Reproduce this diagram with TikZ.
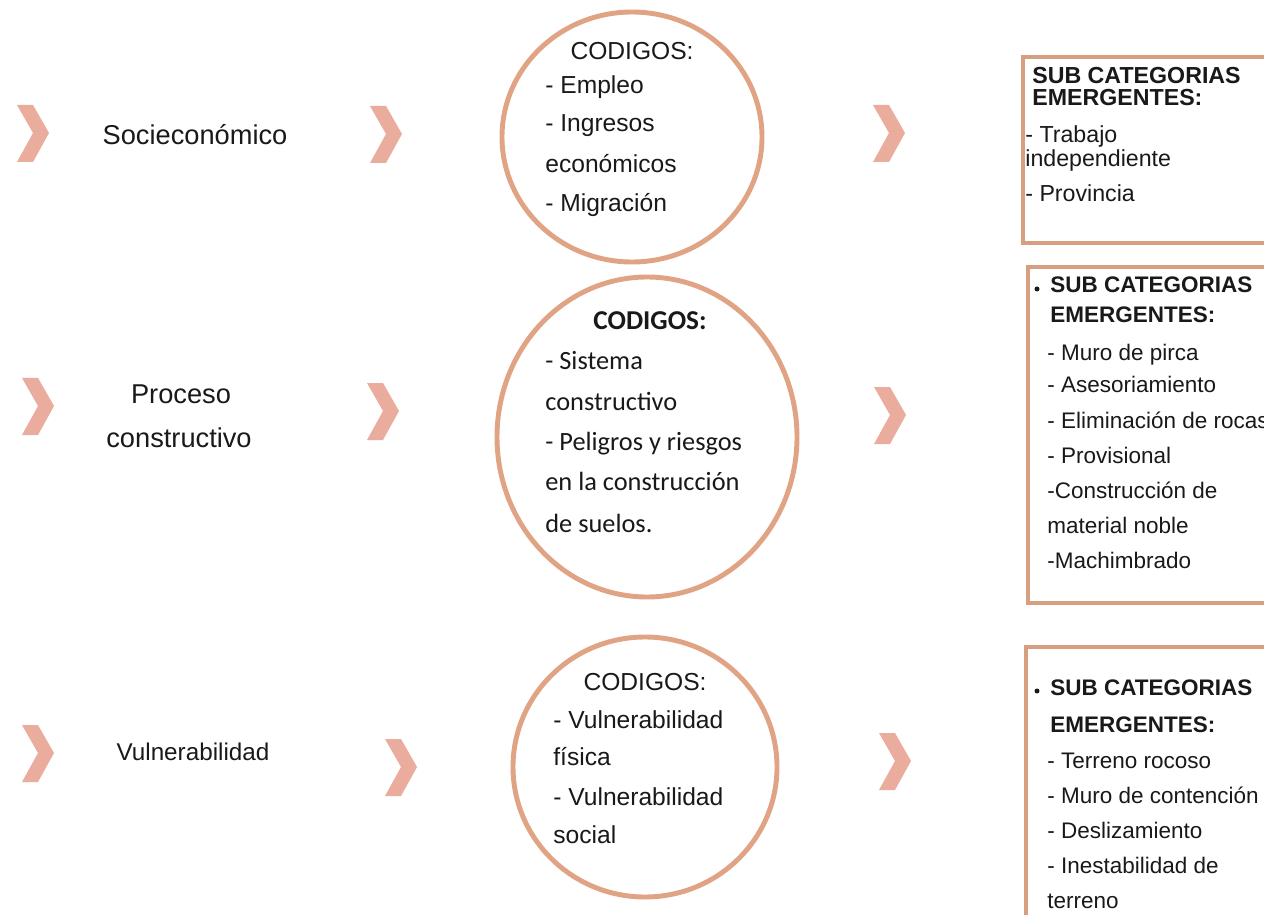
\documentclass[tikz,border=0pt]{standalone}
\usepackage{fontspec}
\setmainfont{Liberation Sans}
\newfontfamily\calibrifont{Carlito}
\definecolor{chevcol}{RGB}{234,172,156}
\definecolor{ringcol}{RGB}{224,163,132}
\definecolor{boxcol}{RGB}{214,160,128}
\definecolor{txtcol}{RGB}{25,25,25}
\tikzset{
  chev/.pic={\fill[chevcol] (0,-28) -- (16,-28) -- (32,0) -- (16,29) -- (0,29) -- (16,0) -- cycle;},
  ring/.style={draw=ringcol, line width=2.8pt},
  subbox/.style={draw=boxcol, line width=1.8pt},
  lbl/.style={inner sep=0pt, text=txtcol, font=\fontsize{15.5}{18}\selectfont},
  codtext/.style={inner sep=0pt, text=txtcol, font=\fontsize{14}{16}\selectfont},
  codtextb/.style={inner sep=0pt, text=txtcol, font=\calibrifont\fontsize{15}{17}\selectfont},
  subhead/.style={inner sep=0pt, text=txtcol, font=\bfseries\fontsize{12.8}{14}\selectfont},
  subtext/.style={inner sep=0pt, text=txtcol, font=\fontsize{12.8}{14}\selectfont},
}
\begin{document}
\begin{tikzpicture}[x=0.02cm, y=-0.02cm]
    \fill[white] (0,0) rectangle (1264,915);
    \useasboundingbox (0,0) rectangle (1264,915);

    % chevrons
    \pic at (17,133) {chev};
    \pic at (370,134) {chev};
    \pic at (873,133) {chev};
    \pic at (22,406) {chev};
    \pic at (367,411) {chev};
    \pic at (874,415) {chev};
    \pic at (22,753) {chev};
    \pic at (385,767) {chev};
    \pic at (879,761) {chev};

    % categories
    \node[lbl, anchor=base] (cat1) at (195,145) {Socieconómico};
    \node[lbl, anchor=base] (cat2a) at (181,403) {Proceso};
    \node[lbl, anchor=base] (cat2b) at (179,447) {constructivo};
    \node[lbl, anchor=base, font=\fontsize{13.8}{16}\selectfont] (cat3) at (193,760) {Vulnerabilidad};

    % circles
    \draw[ring] (632,137) ellipse [x radius=130, y radius=125];
    \draw[ring] (647,437) ellipse [x radius=150, y radius=160];
    \draw[ring] (645,767) ellipse [x radius=132, y radius=130];

    \node[codtext, anchor=base] (cod1) at (632,60) {CODIGOS:};
    \foreach \txt/\yy [count=\n] in {- Empleo/94, - Ingresos/132, económicos/173, - Migración/212}
        \node[codtext, anchor=base west] (cod1-\n) at (545,\yy) {\txt};

    \node[codtextb, anchor=base, font=\calibrifont\bfseries\fontsize{15.5}{17}\selectfont] (cod2) at (650,330) {CODIGOS:};
    \foreach \txt/\yy [count=\n] in {- Sistema/370, constructivo/410, - Peligros y riesgos/450, en la construcción/490, de suelos./532}
        \node[codtextb, anchor=base west] (cod2-\n) at (545,\yy) {\txt};

    \node[codtext, anchor=base] (cod3) at (645,690) {CODIGOS:};
    \foreach \txt/\yy [count=\n] in {- Vulnerabilidad/728, física/765, - Vulnerabilidad/805, social/843}
        \node[codtext, anchor=base west] (cod3-\n) at (553,\yy) {\txt};

    % sub categories
    \draw[subbox] (1023,57) rectangle (1290,243);
    \draw[subbox] (1028,267) rectangle (1290,603);
    \draw[subbox] (1026,647) rectangle (1290,940);

    \node[subhead, anchor=base west, font=\bfseries\fontsize{13.2}{15}\selectfont] (sub1a) at (1032,84) {SUB CATEGORIAS};
    \node[subhead, anchor=base west, font=\bfseries\fontsize{13.2}{15}\selectfont] (sub1b) at (1032,106) {EMERGENTES:};
    \foreach \txt/\yy [count=\n] in {- Trabajo/143, independiente/167, - Provincia/202}
        \node[subtext, anchor=base west, font=\fontsize{13.2}{15}\selectfont] (sub1-\n) at (1025,\yy) {\txt};

    \fill[txtcol] (1037,289) circle [radius=2.5];
    \node[subhead, anchor=base west] (sub2a) at (1050,293) {SUB CATEGORIAS};
    \node[subhead, anchor=base west] (sub2b) at (1050,323) {EMERGENTES:};
    \foreach \txt/\yy [count=\n] in {- Muro de pirca/360, - Asesoriamiento/393, - Eliminación de rocas/428, - Provisional/463, -Construcción de/498, material noble/533, -Machimbrado/568}
        \node[subtext, anchor=base west] (sub2-\n) at (1047,\yy) {\txt};

    \fill[txtcol] (1037,691) circle [radius=2.5];
    \node[subhead, anchor=base west] (sub3a) at (1050,695) {SUB CATEGORIAS};
    \node[subhead, anchor=base west] (sub3b) at (1050,732) {EMERGENTES:};
    \foreach \txt/\yy [count=\n] in {- Terreno rocoso/768, - Muro de contención/803, - Deslizamiento/838, - Inestabilidad de/873, terreno/908}
        \node[subtext, anchor=base west] (sub3-\n) at (1047,\yy) {\txt};
\end{tikzpicture}
\end{document}
